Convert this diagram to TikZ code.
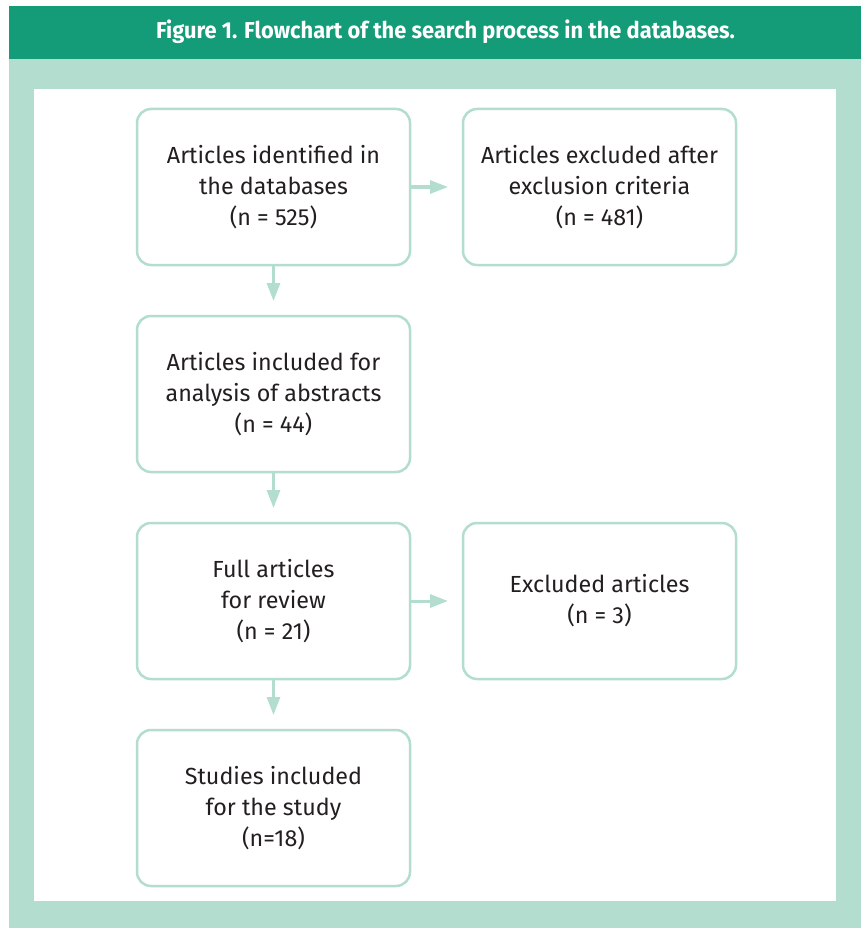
\documentclass[tikz,border=0pt]{standalone}
\usepackage{fontspec}
\setmainfont{Fira Sans}
\usetikzlibrary{arrows.meta}
\definecolor{hdr}{HTML}{149B78}
\definecolor{lite}{HTML}{B3DDCF}
\definecolor{txt}{HTML}{231F20}
\begin{document}
\begin{tikzpicture}[x=1pt,y=-1pt,
  box/.style={draw=lite,line width=2.5pt,rounded corners=14pt,fill=white,
    minimum width=273pt,minimum height=156pt,align=center,text=txt,
    font=\fontsize{23.3}{31}\selectfont,inner sep=0pt},
  conn/.style={draw=lite,line width=3pt,-{Triangle[length=18pt,width=13pt]}}]
\useasboundingbox (0,0) rectangle (861,928);
\fill[lite] (9,59) rectangle (861,928);
\fill[hdr] (9,6) rectangle (861,59);
\fill[white] (34,89) rectangle (836,901);
\node (title) at (445.5,32) {\color{white}\bfseries\scalebox{0.95}[1]{\fontsize{23}{27}\selectfont Figure 1. Flowchart of the search process in the databases.}};
\node[box] (b1) at (273.5,187) {Articles identified in\\the databases\\(n = 525)};
\node[box] (b2) at (599.5,187) {Articles excluded after\\exclusion criteria\\(n = 481)};
\node[box] (b3) at (273.5,394) {Articles included for\\analysis of abstracts\\(n = 44)};
\node[box] (b4) at (273.5,601) {Full articles\\for review\\(n = 21)};
\node[box] (b5) at (599.5,601) {Excluded articles\\(n = 3)};
\node[box] (b6) at (273.5,808) {Studies included\\for the study\\(n=18)};
\coordinate (e1) at (448,187);
\coordinate (e2) at (273.5,301);
\coordinate (e3) at (273.5,508);
\coordinate (e4) at (448,601);
\coordinate (e5) at (273.5,715);
\draw[conn] (b1.east) -- (e1);
\draw[conn] (b1.south) -- (e2);
\draw[conn] (b3.south) -- (e3);
\draw[conn] (b4.east) -- (e4);
\draw[conn] (b4.south) -- (e5);
\end{tikzpicture}
\end{document}
